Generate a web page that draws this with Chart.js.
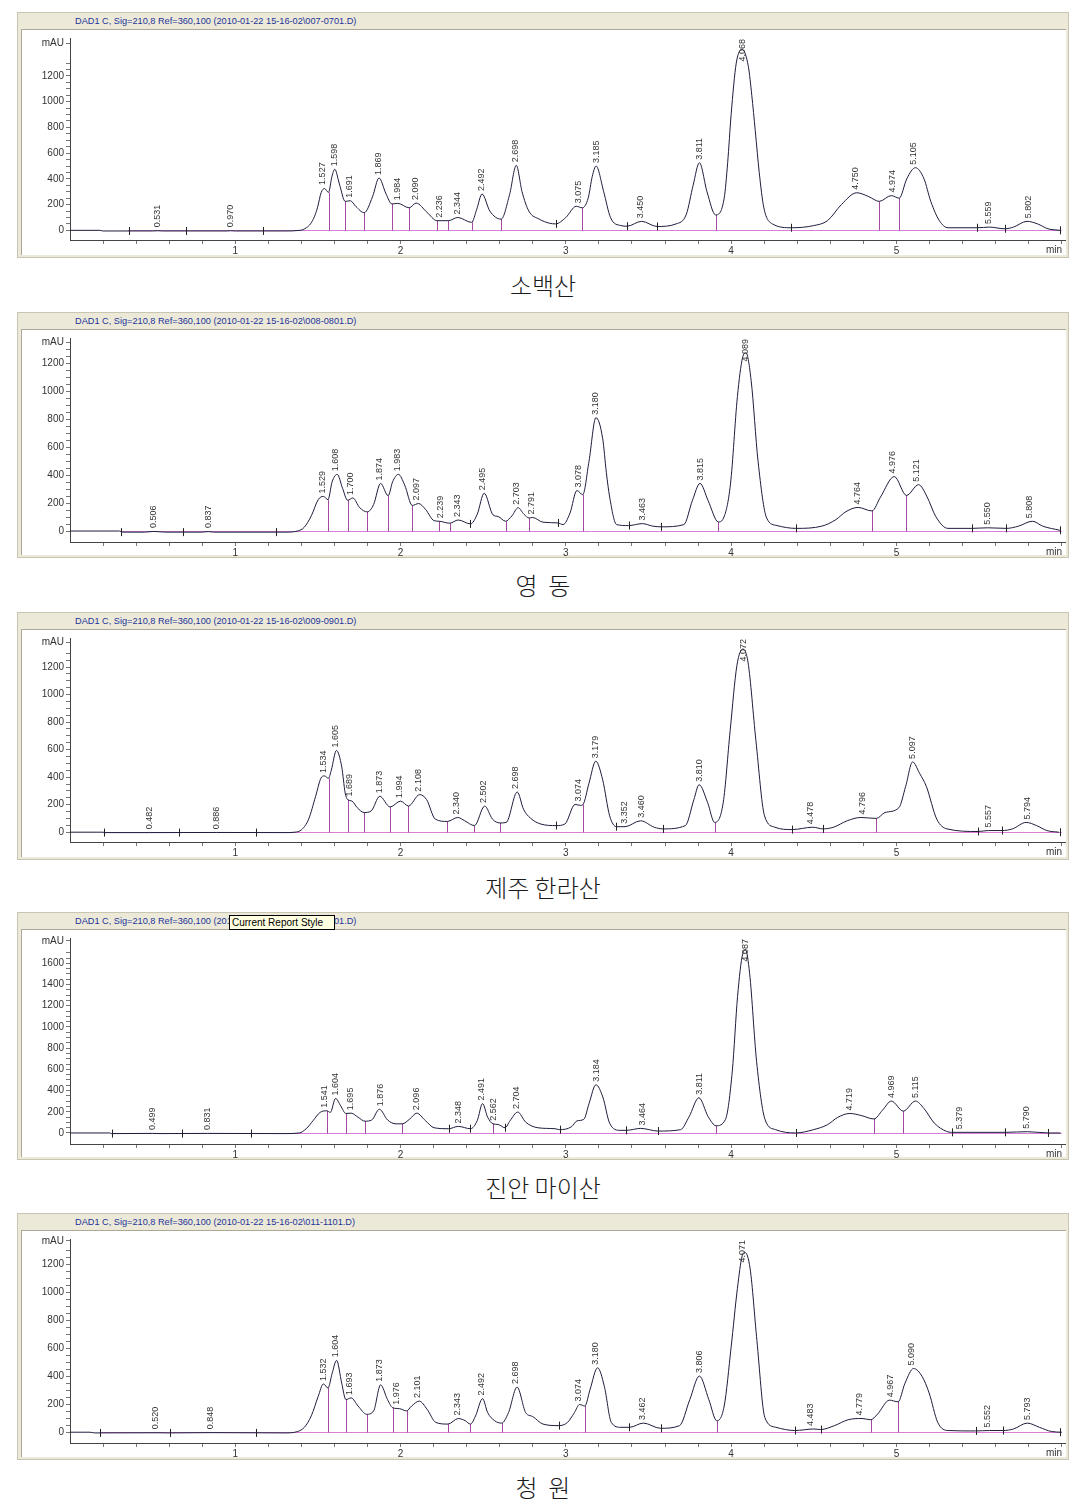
<!DOCTYPE html>
<html><head><meta charset="utf-8">
<script src="https://cdn.jsdelivr.net/npm/chart.js@4.4.1/dist/chart.umd.min.js"></script>
<style>
body{margin:0;background:#fff;width:1086px;height:1510px;position:relative;overflow:hidden;font-family:"Liberation Sans",Arial,sans-serif;}
.panel{position:absolute;left:17px;width:1050px;background:#ECE9D8;border:1px solid #c9c5b3;}
.ptitle{position:absolute;left:57px;top:2px;font-size:9.2px;line-height:12px;color:#24349a;white-space:pre;}
.inner{position:absolute;left:3px;right:2px;top:16px;bottom:2px;background:#fff;border-top:1px solid #aca899;border-left:1px solid #aca899;}
canvas{position:absolute;left:22px;}
.cap{position:absolute;left:0;width:1086px;text-align:center;font-family:"Noto Sans CJK KR";font-size:24px;line-height:30px;color:#1a1a1a;white-space:pre;font-weight:300;}
.tip{position:absolute;left:229px;top:915px;width:102px;height:13px;background:#ffffe1;border:1px solid #000;font-size:10px;line-height:13px;color:#000;padding-left:2px;white-space:pre;}
</style></head><body>
<script>
// ---------- data ----------
const xTickLabels = ['1','2','3','4','5'];
const yTickLabels1 = [0,200,400,600,800,1000,1200];
const yTickLabels4 = [0,200,400,600,800,1000,1200,1400,1600];

const titles = [
 'DAD1 C, Sig=210,8 Ref=360,100 (2010-01-22 15-16-02\\007-0701.D)',
 'DAD1 C, Sig=210,8 Ref=360,100 (2010-01-22 15-16-02\\008-0801.D)',
 'DAD1 C, Sig=210,8 Ref=360,100 (2010-01-22 15-16-02\\009-0901.D)',
 'DAD1 C, Sig=210,8 Ref=360,100 (2010-01-22 15-16-02\\010-1001.D)',
 'DAD1 C, Sig=210,8 Ref=360,100 (2010-01-22 15-16-02\\011-1101.D)'
];
const captions = ['소백산','영  동','제주 한라산','진안 마이산','청  원'];

// Panel 1 : 소백산
const trace1 = [[0,0],[0.18,0],[0.2,-5],[0.5,-5],[0.531,-3],[0.56,-5],[0.95,-5],[0.97,-3],[1.0,-5],[1.30,-5],[1.392,0],[1.43,20],[1.455,50],[1.48,110],[1.497,175],[1.52,295],[1.54,325],[1.564,295],[1.585,420],[1.602,475],[1.63,360],[1.665,225],[1.696,230],[1.73,185],[1.78,137],[1.83,260],[1.870,407],[1.91,290],[1.948,205],[1.983,210],[2.052,175],[2.094,212],[2.16,140],[2.22,75],[2.289,75],[2.346,100],[2.43,62],[2.46,160],[2.493,282],[2.54,150],[2.608,87],[2.66,280],[2.700,505],[2.735,300],[2.776,150],[2.839,87],[2.902,55],[2.9375,50],[3.0,100],[3.0625,187],[3.1,175],[3.135,250],[3.16,420],[3.183,500],[3.229,300],[3.27,100],[3.333,37],[3.37,32],[3.458,70],[3.552,30],[3.667,50],[3.729,125],[3.77,350],[3.808,525],[3.854,300],[3.906,120],[3.958,250],[3.979,525],[4.0,900],[4.031,1300],[4.067,1405],[4.104,1275],[4.125,1050],[4.146,775],[4.17,450],[4.198,175],[4.25,50],[4.365,20],[4.5,37],[4.583,75],[4.667,200],[4.76,292],[4.833,262],[4.896,225],[4.969,270],[5.017,250],[5.0625,400],[5.115,487],[5.167,400],[5.208,225],[5.26,75],[5.3125,20],[5.49,20],[5.5625,25],[5.656,12],[5.708,25],[5.79,70],[5.854,50],[5.917,12],[5.99,0]];
const peakLabels1 = ['0.531','0.970','1.527','1.598','1.691','1.869','1.984','2.090','2.236','2.344','2.492','2.698','3.075','3.185','3.450','3.811','4.068','4.750','4.974','5.105','5.559','5.802'];
const peakHeights1 = [0,0,330,475,230,407,210,212,75,100,282,505,187,500,70,525,1405,292,270,487,25,70];
const drops1 = [[1.564,295],[1.665,225],[1.78,137],[1.948,205],[2.052,175],[2.22,75],[2.289,75],[2.43,62],[2.608,87],[3.1,175],[3.906,120],[4.896,225],[5.017,250]];
const marks1 = [[0.354,-5],[0.704,-5],[1.166,-5],[2.9375,50],[3.37,32],[3.552,30],[4.365,20],[5.49,20],[5.656,12],[5.99,0]];

// Panel 2 : 영동
const trace2 = [[0,0],[0.3,0],[0.32,-8],[0.45,-8],[0.506,-3],[0.58,-8],[0.8,-8],[0.837,-4],[0.87,-8],[1.3,-8],[1.377,0],[1.418,28],[1.46,109],[1.502,225],[1.533,248],[1.561,225],[1.586,353],[1.617,406],[1.649,306],[1.68,220],[1.711,237],[1.753,167],[1.799,137],[1.837,190],[1.879,341],[1.925,253],[1.952,353],[1.987,406],[2.025,329],[2.071,183],[2.109,197],[2.151,155],[2.203,74],[2.234,70],[2.297,56],[2.349,79],[2.423,51],[2.464,121],[2.506,271],[2.559,116],[2.59,104],[2.636,70],[2.674,109],[2.711,167],[2.746,121],[2.778,93],[2.799,97],[2.862,63],[2.952,58],[2.983,46],[3.025,128],[3.067,290],[3.102,260],[3.14,499],[3.182,812],[3.223,661],[3.245,420],[3.265,244],[3.307,46],[3.38,39],[3.463,53],[3.526,35],[3.578,30],[3.714,46],[3.766,220],[3.812,341],[3.86,220],[3.923,65],[3.954,93],[3.996,336],[4.038,963],[4.069,1241],[4.09,1276],[4.121,1079],[4.163,499],[4.215,93],[4.278,39],[4.392,19],[4.549,35],[4.633,81],[4.695,139],[4.768,169],[4.852,144],[4.904,244],[4.987,390],[5.061,255],[5.134,332],[5.186,244],[5.238,104],[5.311,19],[5.457,19],[5.551,23],[5.666,19],[5.739,35],[5.823,70],[5.885,35],[5.99,5]];
const peakLabels2 = ['0.506','0.837','1.529','1.608','1.700','1.874','1.983','2.097','2.239','2.343','2.495','2.703','2.791','3.078','3.180','3.463','3.815','4.089','4.764','4.976','5.121','5.550','5.808'];
const peakHeights2 = [0,0,248,406,237,341,406,197,70,79,271,167,97,290,812,53,341,1276,169,390,332,23,70];
const drops2 = [[1.561,225],[1.68,220],[1.799,137],[1.925,253],[2.071,183],[2.234,70],[2.297,56],[2.636,70],[2.778,93],[3.102,260],[3.923,65],[4.852,144],[5.061,255]];
const marks2 = [[0.31,-8],[0.686,-8],[1.247,-8],[2.423,51],[2.952,58],[3.38,39],[3.578,30],[4.392,19],[5.457,19],[5.666,19],[5.99,5]];

// Panel 3 : 제주 한라산
const trace3 = [[0,0],[0.2,0],[0.21,-3],[0.482,-3],[0.886,-2],[1.3,-3],[1.361,0],[1.402,19],[1.444,95],[1.486,261],[1.518,392],[1.539,409],[1.564,392],[1.581,451],[1.612,594],[1.644,475],[1.665,285],[1.679,238],[1.706,226],[1.738,178],[1.78,143],[1.822,154],[1.874,261],[1.937,183],[2.0,226],[2.048,190],[2.115,273],[2.157,238],[2.21,95],[2.283,78],[2.346,107],[2.388,83],[2.447,48],[2.509,190],[2.556,95],[2.602,67],[2.639,71],[2.706,292],[2.744,166],[2.786,102],[2.849,59],[2.942,48],[2.994,59],[3.056,202],[3.088,195],[3.104,202],[3.14,356],[3.181,516],[3.223,380],[3.265,119],[3.306,40],[3.358,40],[3.452,83],[3.535,36],[3.588,24],[3.723,48],[3.775,238],[3.806,345],[3.858,214],[3.9,71],[3.952,214],[3.994,737],[4.035,1212],[4.071,1331],[4.102,1236],[4.15,665],[4.202,119],[4.265,36],[4.369,19],[4.494,36],[4.556,24],[4.619,36],[4.702,83],[4.785,107],[4.879,100],[4.931,143],[5.015,178],[5.056,333],[5.098,511],[5.14,428],[5.181,333],[5.244,95],[5.306,24],[5.494,5],[5.556,12],[5.64,12],[5.702,24],[5.785,71],[5.848,48],[5.91,12],[5.983,0]];
const peakLabels3 = ['0.482','0.886','1.534','1.605','1.689','1.873','1.994','2.108','2.340','2.502','2.698','3.074','3.179','3.352','3.460','3.810','4.072','4.478','4.796','5.097','5.557','5.794'];
const peakHeights3 = [0,0,409,594,238,261,226,273,107,190,292,202,516,40,83,345,1331,36,107,511,12,71];
const drops3 = [[1.564,392],[1.679,238],[1.78,143],[1.937,183],[2.048,190],[2.283,78],[2.447,48],[2.602,67],[3.104,202],[3.9,71],[4.879,100]];
const marks3 = [[0.208,-3],[0.658,-3],[1.126,-3],[2.942,48],[3.306,40],[3.588,24],[4.369,19],[4.556,24],[5.494,5],[5.64,12],[5.99,0]];

// Panel 4 : 진안 마이산
const trace4 = [[0,0],[0.24,0],[0.25,-6],[0.499,-4],[0.55,-6],[0.831,-4],[1.3,-6],[1.387,0],[1.429,40],[1.471,117],[1.513,194],[1.554,209],[1.575,194],[1.607,326],[1.638,255],[1.669,184],[1.701,187],[1.743,148],[1.785,111],[1.826,123],[1.872,224],[1.921,123],[1.973,86],[2.01,86],[2.056,132],[2.098,187],[2.15,117],[2.203,49],[2.291,40],[2.349,62],[2.423,40],[2.464,117],[2.496,277],[2.527,148],[2.559,86],[2.59,80],[2.632,49],[2.663,117],[2.709,197],[2.757,102],[2.831,49],[2.935,40],[2.962,31],[3.036,61],[3.067,114],[3.109,129],[3.14,276],[3.182,454],[3.224,338],[3.265,92],[3.328,25],[3.366,25],[3.453,43],[3.558,18],[3.694,31],[3.746,154],[3.805,332],[3.861,154],[3.909,68],[3.966,129],[4.007,583],[4.039,1289],[4.07,1689],[4.087,1725],[4.112,1504],[4.154,675],[4.206,123],[4.269,31],[4.39,0],[4.498,31],[4.582,77],[4.645,147],[4.718,184],[4.791,163],[4.864,132],[4.916,215],[4.969,301],[5.042,206],[5.115,301],[5.167,230],[5.23,92],[5.303,15],[5.334,6],[5.439,6],[5.658,6],[5.794,12],[5.92,0],[5.993,0]];
const peakLabels4 = ['0.499','0.831','1.541','1.604','1.695','1.876','2.096','2.348','2.491','2.562','2.704','3.184','3.464','3.811','4.087','4.719','4.969','5.115','5.379','5.790'];
const peakHeights4 = [0,0,209,326,187,224,187,62,277,86,197,454,43,332,1725,184,301,301,6,12];
const drops4 = [[1.554,209],[1.669,184],[1.785,111],[2.01,86],[2.559,86],[3.909,68],[4.864,132],[5.042,206]];
const marks4 = [[0.257,-6],[0.676,-6],[1.094,-6],[2.291,40],[2.423,40],[2.632,49],[2.962,31],[3.366,25],[3.558,18],[4.39,0],[5.334,6],[5.658,6],[5.92,0]];

// Panel 5 : 청원
const trace5 = [[0,0],[0.12,0],[0.15,-5],[0.52,-4],[0.6,-5],[0.848,-3],[1.3,-5],[1.377,5],[1.418,35],[1.46,117],[1.502,257],[1.533,345],[1.561,315],[1.586,420],[1.613,513],[1.644,350],[1.669,233],[1.701,245],[1.743,187],[1.795,128],[1.837,152],[1.879,338],[1.921,233],[1.952,175],[1.994,168],[2.036,152],[2.067,187],[2.113,222],[2.161,163],[2.213,70],[2.287,58],[2.349,98],[2.391,82],[2.423,58],[2.454,117],[2.496,240],[2.527,140],[2.569,82],[2.611,65],[2.653,140],[2.705,322],[2.757,140],[2.799,112],[2.862,58],[2.958,47],[3.01,70],[3.052,140],[3.083,198],[3.115,187],[3.146,303],[3.192,460],[3.233,327],[3.275,70],[3.333,35],[3.385,35],[3.469,65],[3.573,28],[3.688,47],[3.75,233],[3.808,401],[3.865,233],[3.913,82],[3.958,187],[4.0,607],[4.038,1027],[4.067,1260],[4.083,1284],[4.115,1167],[4.156,654],[4.204,105],[4.271,35],[4.385,12],[4.5,23],[4.542,19],[4.625,47],[4.708,89],[4.792,98],[4.844,89],[4.885,128],[4.958,229],[5.01,217],[5.052,350],[5.104,455],[5.156,397],[5.198,280],[5.25,70],[5.313,12],[5.479,9],[5.5625,12],[5.646,12],[5.708,23],[5.792,65],[5.865,35],[5.938,5],[6.0,0]];
const peakLabels5 = ['0.520','0.848','1.532','1.604','1.693','1.873','1.976','2.101','2.343','2.492','2.698','3.074','3.180','3.462','3.806','4.071','4.483','4.779','4.967','5.090','5.552','5.793'];
const peakHeights5 = [0,0,345,513,245,338,175,222,98,240,322,198,460,65,401,1284,23,98,229,455,12,65];
const drops5 = [[1.561,315],[1.669,233],[1.795,128],[1.952,175],[2.036,152],[2.287,58],[2.423,58],[2.611,65],[3.115,187],[3.913,82],[4.844,89],[5.01,217]];
const marks5 = [[0.18,-5],[0.607,-5],[1.126,-5],[2.958,47],[3.385,35],[3.573,28],[4.385,12],[4.542,19],[5.479,9],[5.646,12],[5.99,0]];

// ---------- layout (page pixels) ----------
const layoutP = [
 {top:12,  h:246, plotTop:31,   axis:240,  y0:230,    k:0.1331, mau:1452, yTicks:yTickLabels1, base:0.35},
 {top:312, h:246, plotTop:332,  axis:542,  y0:530.7,  k:0.1437, mau:1350, yTicks:yTickLabels1, base:0.31},
 {top:612, h:248, plotTop:634,  axis:842,  y0:832,    k:0.1403, mau:1378, yTicks:yTickLabels1, base:0.20},
 {top:912, h:248, plotTop:933,  axis:1144, y0:1132.7, k:0.1086, mau:1811, yTicks:yTickLabels4, base:0.25},
 {top:1213,h:247, plotTop:1235, axis:1443, y0:1432,   k:0.1428, mau:1366, yTicks:yTickLabels1, base:0.18}
];
const traces = [trace1,trace2,trace3,trace4,trace5];
const pLabels = [peakLabels1,peakLabels2,peakLabels3,peakLabels4,peakLabels5];
const pHeights = [peakHeights1,peakHeights2,peakHeights3,peakHeights4,peakHeights5];
const dropsAll = [drops1,drops2,drops3,drops4,drops5];
const marksAll = [marks1,marks2,marks3,marks4,marks5];

const FONT = '"Liberation Sans", Arial, sans-serif';

const chromAnno = {
  id:'chromAnno',
  beforeDatasetsDraw(chart, args, o){
    const {ctx, chartArea:a, scales:{x,y}} = chart;
    ctx.save();
    ctx.beginPath(); ctx.rect(a.left, a.top, a.width, a.height+1); ctx.clip();
    const y0 = Math.round(y.getPixelForValue(0))+0.5;
    ctx.lineWidth = 1;
    ctx.strokeStyle = '#d77fd7';
    ctx.beginPath(); ctx.moveTo(x.getPixelForValue(o.baseStart), y0); ctx.lineTo(x.getPixelForValue(6.0), y0); ctx.stroke();
    ctx.strokeStyle = '#a548a5';
    o.drops.forEach(([t,v])=>{
      const px = Math.round(x.getPixelForValue(t))+0.5;
      ctx.beginPath(); ctx.moveTo(px,y0); ctx.lineTo(px,y.getPixelForValue(v)); ctx.stroke();
    });
    ctx.restore();
  },
  afterDatasetsDraw(chart, args, o){
    const {ctx, chartArea:a, scales:{x,y}} = chart;
    ctx.save();
    ctx.strokeStyle = '#222'; ctx.lineWidth = 1;
    o.marks.forEach(([t,v])=>{
      const px = Math.round(x.getPixelForValue(t))+0.5, py = y.getPixelForValue(v);
      ctx.beginPath(); ctx.moveTo(px,py-4); ctx.lineTo(px,py+4); ctx.stroke();
    });
    ctx.font = '9px ' + FONT; ctx.fillStyle = '#333';
    ctx.textAlign = 'left'; ctx.textBaseline = 'middle';
    o.labels.forEach((lab,i)=>{
      const px = x.getPixelForValue(parseFloat(lab));
      let py = y.getPixelForValue(o.heights[i]) - 3;
      const w = ctx.measureText(lab).width;
      if (py - w < a.top + 1) py = a.top + 1 + w;
      ctx.save(); ctx.translate(px, py); ctx.rotate(-Math.PI/2); ctx.fillText(lab, 0, 0); ctx.restore();
    });
    ctx.font = '10px ' + FONT; ctx.fillStyle = '#333';
    ctx.textAlign = 'right'; ctx.textBaseline = 'middle';
    ctx.fillText('min', a.right - 3, a.bottom + 10);
    ctx.restore();
  }
};

const xTickVals = [];
for (let i = 1; i <= 30; i++) xTickVals.push(i/5);

layoutP.forEach((L, i) => {
  const panel = document.createElement('div');
  panel.className = 'panel';
  panel.style.top = L.top + 'px'; panel.style.height = (L.h - 2) + 'px';
  panel.innerHTML = '<div class="ptitle"></div><div class="inner"></div>';
  panel.querySelector('.ptitle').textContent = titles[i];
  document.body.appendChild(panel);

  const cap = document.createElement('div');
  cap.className = 'cap';
  cap.style.top = (L.top + L.h + 12) + 'px';
  cap.textContent = captions[i];
  document.body.appendChild(cap);

  const cTop = L.top + 18, cBottom = L.top + L.h;
  const cv = document.createElement('canvas');
  cv.width = 1044; cv.height = cBottom - cTop;
  cv.style.top = cTop + 'px';
  document.body.appendChild(cv);

  const yMax = (L.y0 - L.plotTop) / L.k;
  const yMin = (L.y0 - L.axis) / L.k;
  const topMajor = L.yTicks[L.yTicks.length-1];
  const yTickVals = [];
  for (let v = 0; v <= topMajor + 100; v += 50) if (v < L.mau - 20) yTickVals.push(v);
  yTickVals.push(L.mau);

  new Chart(cv, {
    type: 'line',
    data: { datasets: [{
      data: traces[i].map(p => ({x:p[0], y:p[1]})),
      borderColor: '#1d1d3c', borderWidth: 1, pointRadius: 0,
      cubicInterpolationMode: 'monotone', fill: false
    }]},
    options: {
      responsive: false, animation: false, devicePixelRatio: 1,
      layout: { padding: { top: L.plotTop - cTop, right: 1, left: 0, bottom: 0 } },
      plugins: {
        legend: {display:false}, tooltip: {enabled:false},
        chromAnno: { labels: pLabels[i], heights: pHeights[i], drops: dropsAll[i], marks: marksAll[i], baseStart: L.base }
      },
      scales: {
        x: {
          type: 'linear', min: 0, max: 6.02,
          afterBuildTicks: s => { s.ticks = xTickVals.map(v => ({value: v})); },
          afterFit: s => { s.height = cBottom - L.axis; },
          ticks: {
            autoSkip: false, maxRotation: 0, padding: 1, color: '#333',
            font: {size: 10, family: FONT},
            callback: v => { const r = Math.round(v*1000)/1000; return xTickLabels.includes(String(r)) ? String(r) : ''; }
          },
          grid: { drawOnChartArea: false, drawTicks: true, tickLength: 4, color: '#777' },
          border: { display: true, color: '#444', width: 1 }
        },
        y: {
          type: 'linear', min: yMin, max: yMax,
          afterBuildTicks: s => { s.ticks = yTickVals.map(v => ({value: v})); },
          afterFit: s => { s.width = 48; },
          ticks: {
            autoSkip: false, padding: 2, color: '#333',
            font: {size: 10, family: FONT},
            callback: v => v === L.mau ? 'mAU' : (L.yTicks.includes(v) ? String(v) : '')
          },
          grid: { drawOnChartArea: false, drawTicks: true, tickLength: 4, color: '#777' },
          border: { display: true, color: '#444', width: 1 }
        }
      }
    },
    plugins: [chromAnno]
  });
});

const tip = document.createElement('div');
tip.className = 'tip'; tip.textContent = 'Current Report Style';
document.body.appendChild(tip);
</script>
</body></html>
